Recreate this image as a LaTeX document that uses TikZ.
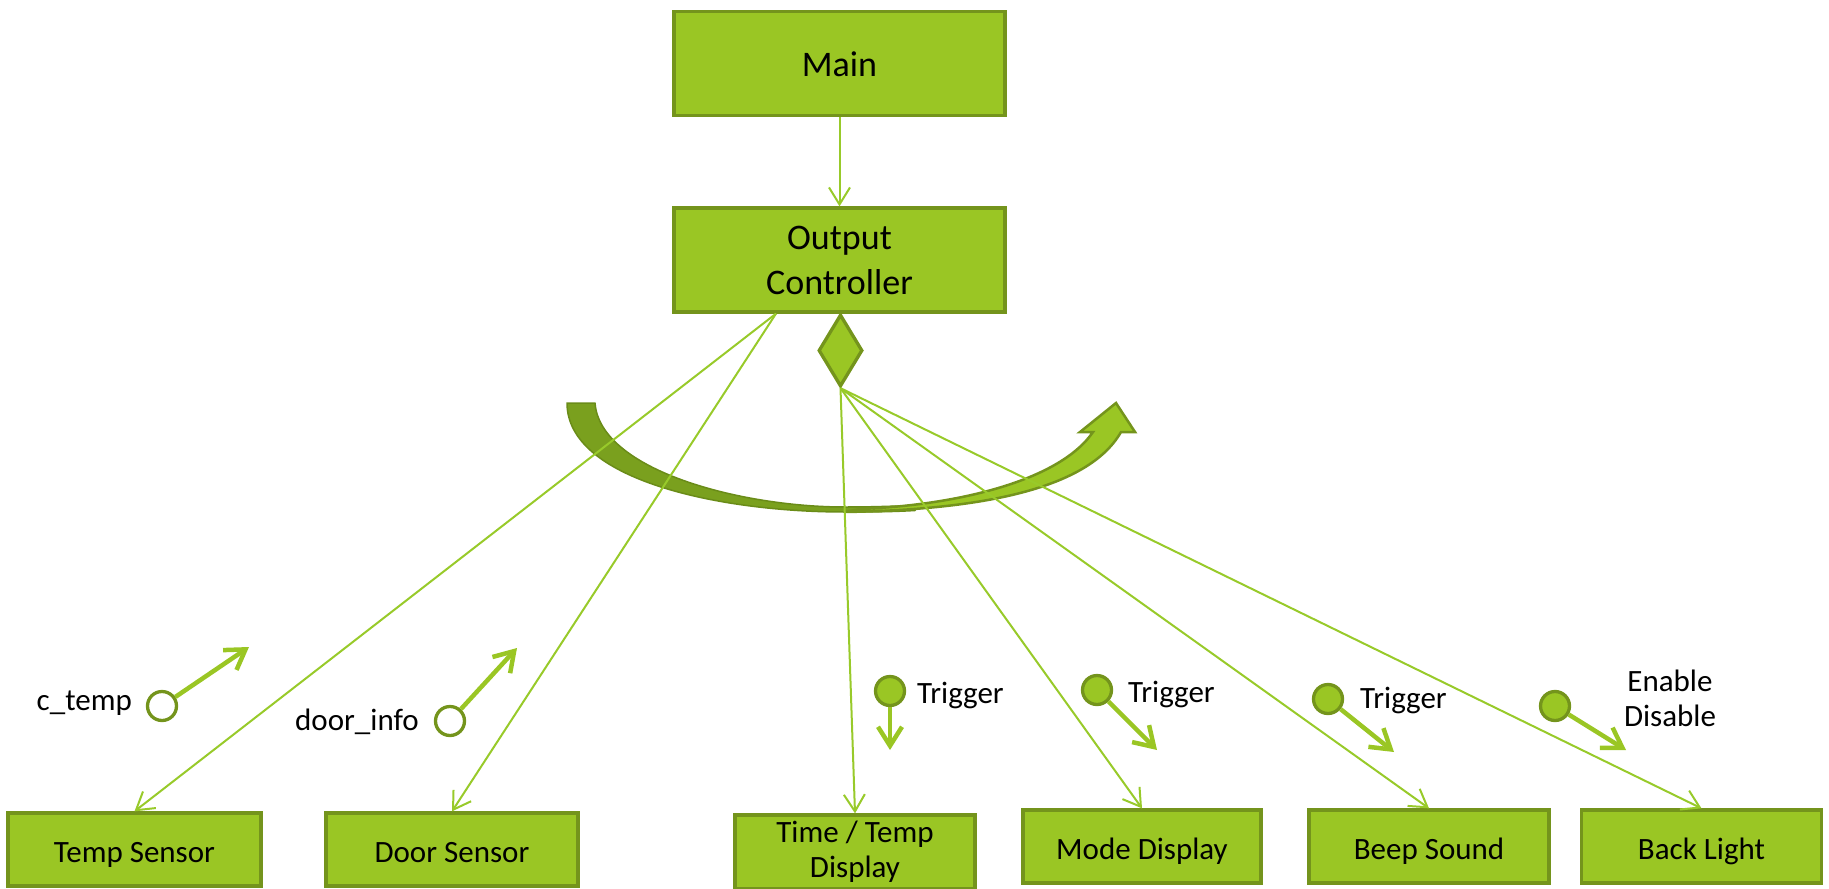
\documentclass[tikz,border=0pt]{standalone}
\usepackage{fontspec}
\setmainfont{Carlito}
\usetikzlibrary{arrows.meta,shapes.geometric,calc}
\definecolor{lime}{RGB}{154,198,36}
\definecolor{limeline}{RGB}{152,202,42}
\definecolor{olive}{RGB}{116,148,28}
\definecolor{bandfill}{RGB}{122,160,30}
\definecolor{bandedge}{RGB}{106,140,24}

\begin{document}
\begin{tikzpicture}[x=1pt,y=-1pt,
  box/.style={draw=olive, fill=lime, line width=3.3pt, inner sep=0pt, align=center,
    font=\fontsize{31}{35}\selectfont},
  onerow/.style={text height=25pt, text depth=0pt},
  bigbox/.style={box, font=\fontsize{36}{45}\selectfont, minimum width=331pt, minimum height=104pt},
  unit/.style={box, minimum width=240pt, minimum height=73pt},
  link/.style={draw=limeline, line width=2pt, -{Straight Barb[length=17pt,width=21pt]}},
  flow/.style={draw=lime, line width=4.5pt, -{Straight Barb[length=19pt,width=24pt]}},
  port/.style={circle, draw=olive, line width=3.3pt, minimum size=29pt, inner sep=0pt},
  lbl/.style={font=\fontsize{31}{35}\selectfont, inner sep=0pt, align=center}
]
\useasboundingbox (0,0) rectangle (1829,889);

% upper modules
\node[bigbox, onerow] (main) at (839.5,63.5) {Main};
\node[bigbox] (oc) at (839.5,260) {Output\\Controller};
\node[diamond, draw=olive, fill=lime, line width=3.3pt, minimum width=44pt,
  minimum height=72pt, inner sep=0pt] (dia) at (840.5,350.5) {};

% curved sweep arrow: darker back band, lighter front with head
\draw[bandedge, fill=bandfill, line width=1.5pt, line join=round]
  (567,403) -- (595,403) .. controls (600,470) and (740,507) .. (845,507)
  .. controls (875,507) and (895,506) .. (915,505.5)
  -- (915,510.5) .. controls (890,512) and (865,512) .. (845,512)
  .. controls (720,512) and (567,480) .. (567,403) -- cycle;
\draw[olive, fill=lime, line width=2.5pt, line join=miter]
  (845,512) .. controls (960,510) and (1085,495) .. (1121,432)
  -- (1135,432) -- (1116,403) -- (1080,432) -- (1093,432)
  .. controls (1060,480) and (960,505) .. (860,509) -- cycle;

% lower modules
\node[unit, onerow, minimum width=253pt] (temp) at (134.5,849.5) {Temp Sensor};
\node[unit, onerow, minimum width=252pt] (door) at (452,849.5) {Door Sensor};
\node[unit, minimum height=74pt] (ttd) at (855,852) {Time / Temp\\Display};
\node[unit, onerow, minimum width=238pt] (mode) at (1142,846.5) {Mode Display};
\node[unit, onerow] (beep) at (1429,846.5) {Beep Sound};
\node[unit, onerow] (back) at (1701.5,846.5) {Back Light};

% calls
\draw[link] (main) -- (oc);
\draw[link] ($(oc.south west)!0.31!(oc.south east)$) -- (temp.north);
\draw[link] ($(oc.south west)!0.31!(oc.south east)$) -- (door.north);
\draw[link] (dia.south) -- (ttd.north);
\draw[link] (dia.south) -- (mode.north);
\draw[link] (dia.south) -- (beep.north);
\draw[link] (dia.south) -- (back.north);

% data couples
\node[port, fill=white] (ct) at (162,706) {};
\coordinate (cttip) at (249,647);
\draw[flow] (ct) -- (cttip);
\node[lbl, anchor=base east] at (132,710) {c\_temp};

\node[port, fill=white] (di) at (450,721) {};
\coordinate (ditip) at (517,648);
\draw[flow] (di) -- (ditip);
\node[lbl, anchor=base east] at (419,730) {door\_info};

% control flags
\node[port, fill=lime] (t1) at (890,691) {};
\coordinate (t1tip) at (890,750);
\draw[flow] (t1) -- (t1tip);
\node[lbl, anchor=base west] at (917,703) {Trigger};

\node[port, fill=lime] (t2) at (1097,690) {};
\coordinate (t2tip) at (1157,750);
\draw[flow] (t2) -- (t2tip);
\node[lbl, anchor=base west] at (1128,702) {Trigger};

\node[port, fill=lime] (t3) at (1328,699) {};
\coordinate (t3tip) at (1394,752);
\draw[flow] (t3) -- (t3tip);
\node[lbl, anchor=base west] at (1360,708) {Trigger};

\node[port, fill=lime] (en) at (1555,706) {};
\coordinate (entip) at (1626,750);
\draw[flow] (en) -- (entip);
\node[lbl, anchor=north] at (1670,670) {Enable\\Disable};
\end{tikzpicture}
\end{document}
